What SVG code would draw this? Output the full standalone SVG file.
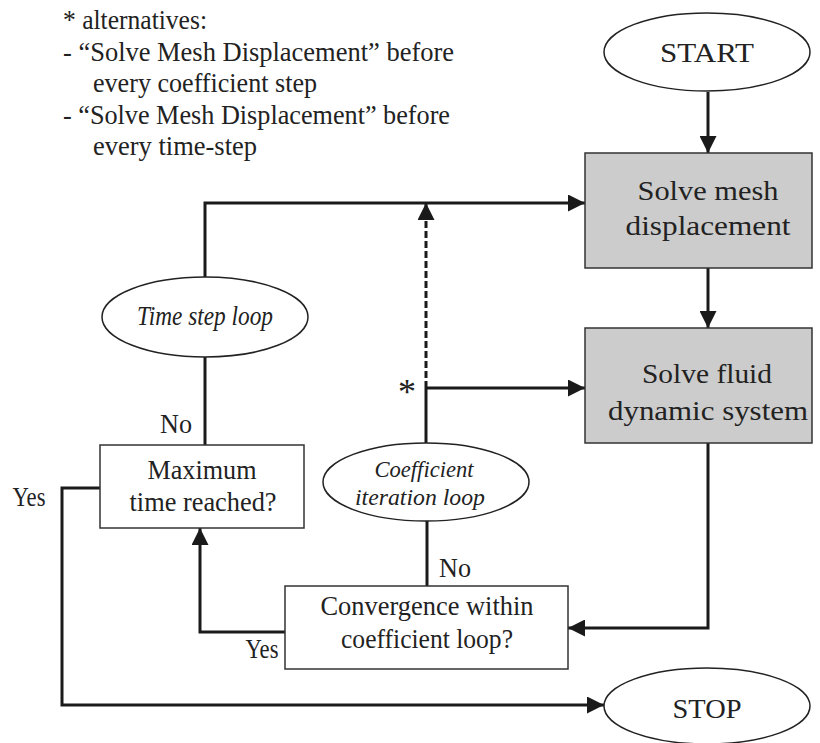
<svg xmlns="http://www.w3.org/2000/svg" width="820" height="743" viewBox="0 0 820 743">
<defs>
<marker id="arr" markerUnits="userSpaceOnUse" markerWidth="17" markerHeight="17" refX="17" refY="8.5" orient="auto">
<path d="M0,0 L17,8.5 L0,17 z" fill="#1a1a1a"/>
</marker>
<style>
text{font-family:"Liberation Serif","Times New Roman",serif;font-size:27px;fill:#222;}
.c{text-anchor:middle;}
.i{font-style:italic;}
.sm{font-size:24px;}
.box{fill:#fff;stroke:#333;stroke-width:1.5;}
.gray{fill:#cccccc;stroke:#333;stroke-width:1.5;}
.ell{fill:#fff;stroke:#222;stroke-width:1.5;}
.ln{fill:none;stroke:#1a1a1a;stroke-width:3;}
.arr{marker-end:url(#arr);}
.dash{stroke-dasharray:7,3;}
</style>
</defs>
<rect width="820" height="743" fill="#fff"/>

<g id="note">
<text x="63" y="29" textLength="144" lengthAdjust="spacingAndGlyphs">* alternatives:</text>
<text x="63" y="61" textLength="391" lengthAdjust="spacingAndGlyphs">- “Solve Mesh Displacement” before</text>
<text x="93" y="92" textLength="224" lengthAdjust="spacingAndGlyphs">every coefficient step</text>
<text x="63" y="124" textLength="387" lengthAdjust="spacingAndGlyphs">- “Solve Mesh Displacement” before</text>
<text x="93" y="155" textLength="164" lengthAdjust="spacingAndGlyphs">every time-step</text>
</g>

<g id="connectors">
<path class="ln arr" d="M708,92 V153"/>
<path class="ln arr" d="M708,268 V328"/>
<path class="ln arr" d="M708,443 V628 H568"/>
<path class="ln" d="M427,586 V520"/>
<path class="ln" d="M426,443 V388"/>
<path class="ln arr" d="M426,388 H585"/>
<path class="ln arr dash" d="M426,388 V203"/>
<path class="ln arr" d="M285,632 H200 V528"/>
<path class="ln" d="M205,445 V357"/>
<path class="ln arr" d="M205,277 V203 H585"/>
<path class="ln arr" d="M100,488 H62 V705 H604"/>
</g>

<g id="start">
<ellipse class="ell" cx="707" cy="52" rx="103" ry="39"/>
<text class="c" x="707" y="62" textLength="94" lengthAdjust="spacingAndGlyphs">START</text>
</g>

<g id="mesh">
<rect class="gray" x="585" y="153" width="227" height="115"/>
<text class="c" x="708" y="200" textLength="141" lengthAdjust="spacingAndGlyphs">Solve mesh</text>
<text class="c" x="708" y="235" textLength="165" lengthAdjust="spacingAndGlyphs">displacement</text>
</g>

<g id="fluid">
<rect class="gray" x="585" y="328" width="227" height="115"/>
<text class="c" x="707" y="383" textLength="130" lengthAdjust="spacingAndGlyphs">Solve fluid</text>
<text class="c" x="708" y="420" textLength="200" lengthAdjust="spacingAndGlyphs">dynamic system</text>
</g>

<g id="timeloop">
<ellipse class="ell" cx="205" cy="317" rx="103" ry="40"/>
<text class="c i" x="205" y="325" textLength="136" lengthAdjust="spacingAndGlyphs">Time step loop</text>
</g>

<g id="coefloop">
<ellipse class="ell" cx="426" cy="482" rx="103" ry="39"/>
<text class="c i sm" x="424" y="477" textLength="99" lengthAdjust="spacingAndGlyphs">Coefficient</text>
<text class="c i sm" x="420" y="505" textLength="130" lengthAdjust="spacingAndGlyphs">iteration loop</text>
</g>

<g id="maxtime">
<rect class="box" x="100" y="445" width="204" height="83"/>
<text class="c" x="202" y="479" textLength="109" lengthAdjust="spacingAndGlyphs">Maximum</text>
<text class="c" x="203" y="511" textLength="147" lengthAdjust="spacingAndGlyphs">time reached?</text>
</g>

<g id="converge">
<rect class="box" x="285" y="586" width="283" height="83"/>
<text class="c" x="427" y="615" textLength="213" lengthAdjust="spacingAndGlyphs">Convergence within</text>
<text class="c" x="427" y="648" textLength="172" lengthAdjust="spacingAndGlyphs">coefficient loop?</text>
</g>

<g id="stop">
<ellipse class="ell" cx="707" cy="706" rx="103" ry="38"/>
<text class="c" x="707" y="718" textLength="69" lengthAdjust="spacingAndGlyphs">STOP</text>
</g>

<g id="labels">
<text class="c" x="176" y="433" textLength="32" lengthAdjust="spacingAndGlyphs">No</text>
<text class="c" x="29" y="506" textLength="33" lengthAdjust="spacingAndGlyphs">Yes</text>
<text class="c" x="262" y="658" textLength="33" lengthAdjust="spacingAndGlyphs">Yes</text>
<text class="c" x="455" y="577" textLength="32" lengthAdjust="spacingAndGlyphs">No</text>
<text class="c" x="407" y="404" style="font-size:36px">*</text>
</g>
</svg>
